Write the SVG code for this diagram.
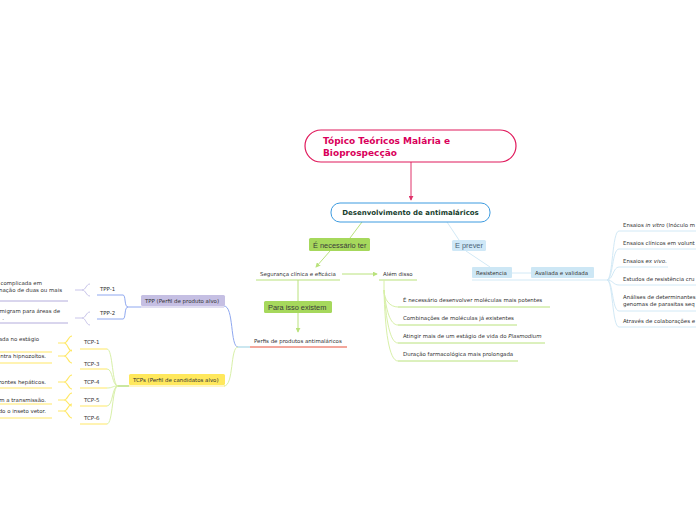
<svg xmlns="http://www.w3.org/2000/svg" width="696" height="520" viewBox="0 0 696 520">
<defs>
<style>
.t{font-family:"DejaVu Sans",Verdana,sans-serif;font-size:5.45px;fill:#333}
.lb{font-family:"Liberation Sans",Arial,sans-serif;font-size:7.4px;fill:#3a3a3a}
.g{fill:none;stroke:#b9e27c;stroke-width:1}
.gl{fill:none;stroke:#d8f0a8;stroke-width:1}
.b{fill:none;stroke:#d2e9f6;stroke-width:1}
.p{fill:none;stroke:#8fa8f0;stroke-width:1}
.pl{fill:none;stroke:#c9c5ea;stroke-width:1}
.y{fill:none;stroke:#ffe866;stroke-width:1.2}
</style>
<marker id="ag" viewBox="0 0 6 6" refX="5" refY="3" markerWidth="5" markerHeight="5" orient="auto"><path d="M0,0L6,3L0,6z" fill="#b9e27c"/></marker>
<marker id="ar" viewBox="0 0 6 6" refX="5" refY="3" markerWidth="5" markerHeight="5" orient="auto"><path d="M0,0L6,3L0,6z" fill="#e0336b"/></marker>
</defs>
<rect width="696" height="520" fill="#fff"/>
<g id="connectors">
<line x1="411" y1="162" x2="411" y2="200" stroke="#e0336b" stroke-width="1" marker-end="url(#ar)"/>
<line x1="362" y1="222" x2="350" y2="238" class="g"/>
<line x1="330" y1="251" x2="316" y2="267" class="g" marker-end="url(#ag)"/>
<line x1="447" y1="222" x2="459" y2="240" class="b"/>
<line x1="466" y1="251" x2="490" y2="267" class="b"/>
<line x1="342" y1="274" x2="377" y2="274" class="g" marker-end="url(#ag)"/>
<line x1="298" y1="280" x2="298" y2="301" class="g"/>
<line x1="298" y1="313" x2="298" y2="332" class="g" marker-end="url(#ag)"/>
<line x1="256" y1="280" x2="340" y2="280" class="g"/>
<line x1="379" y1="280" x2="417" y2="280" class="g"/>
<path d="M384,280V290C384,300 390,307 398,307M384,290C386,310 390,325 398,325M384,290C386,320 390,343 398,343M384,290C385,330 389,361 398,361" class="gl"/>
<path d="M398,307H550M398,325H517M398,343H545M398,361H518" class="g"/>
<line x1="472" y1="280" x2="607" y2="280" class="b"/>
<line x1="512" y1="273" x2="531" y2="273" class="b"/>
<path d="M607,280C613,280 612,231 619,231M607,280C613,280 612,249 619,249M607,280C613,280 613,267 619,267M607,280C613,280 613,285 619,285M607,280C613,280 612,311 619,311M607,280C613,280 612,327 619,327" class="b"/>
<path d="M619,231H696M619,249H696M619,267H668M619,285H696M619,311H696M619,327H696" class="b"/>
<line x1="238" y1="347" x2="250" y2="347" stroke="#a9d8e6" stroke-width="1.2"/>
<line x1="250" y1="347" x2="347" y2="347" stroke="#e8503a" stroke-width="1.2"/>
<path d="M224,306C234,306 230,347 238,347" class="p"/>
<path d="M238,347C230,347 234,386 224,386" class="gl"/>
<line x1="141" y1="307" x2="224" y2="307" stroke="#b3acdc" stroke-width="0.8"/>
<path d="M128,307H141M128,307C124,307 126,295 123,295M128,307C124,307 126,319 123,319" class="p"/>
<path d="M97,295H123M97,319H123" class="p"/>
<path d="M75,290H82C86,290 86,284 90,284M82,290C86,290 86,296 90,296M75,318H82C86,318 86,312 90,312M82,318C86,318 86,325 90,325" class="pl"/>
<path d="M0,301H68M0,323H68" stroke="#b3acdc" fill="none" stroke-width="1"/>
<line x1="129" y1="386" x2="225" y2="386" stroke="#ffe866" stroke-width="0.8"/>
<path d="M118,386H129" stroke="#a8d860" fill="none" stroke-width="1.2"/>
<path d="M118,386C112,386 113,349 107,349M118,386C112,386 113,369 107,369M118,386C112,386 113,388 107,388M118,386C112,386 113,406 107,406M118,386C112,386 113,424 107,424" class="gl"/>
<path d="M80,349H107M80,369H107M80,388H107M80,406H107M80,424H107" class="y"/>
<path d="M58,343H64C68,343 68,336 72,336M64,343C68,343 68,351 72,351M58,356H64C68,356 68,350 72,350M64,356C68,356 68,363 72,363M58,382H64C68,382 68,375 72,375M64,382C68,382 68,389 72,389M58,400H64C68,400 68,393 72,393M64,400C68,400 68,406 72,406M58,411H64C68,411 68,404 72,404M64,411C68,411 68,418 72,418" class="y" stroke-width="0.9"/>
<path d="M0,352H52M0,363H52M0,388H52M0,404H52M0,418H52" class="y"/>
</g>
<g id="root">
<rect x="305" y="130" width="211" height="32" rx="16" fill="#fff" stroke="#e01a5c" stroke-width="1.2"/>
<text x="323" y="144" font-family="DejaVu Sans,Verdana,sans-serif" font-size="9px" font-weight="bold" fill="#d9005b">Tópico Teóricos Malária e</text>
<text x="323" y="156" font-family="DejaVu Sans,Verdana,sans-serif" font-size="9px" font-weight="bold" fill="#d9005b">Bioprospecção</text>
</g>
<g id="desenvolvimento">
<rect x="331" y="203" width="159" height="19" rx="9" fill="#fff" stroke="#3d9be0" stroke-width="1"/>
<text x="410.5" y="215" text-anchor="middle" font-family="DejaVu Sans,Verdana,sans-serif" font-size="7px" font-weight="bold" fill="#17402e">Desenvolvimento de antimaláricos</text>
</g>
<g id="necessario-ter">
<rect x="309" y="238" width="61" height="13" rx="1.5" fill="#a6d85c"/>
<text x="313" y="247.5" class="lb">É necessário ter</text>
</g>
<g id="e-prever">
<rect x="452" y="240" width="34" height="11" rx="1.5" fill="#cfe8f7"/>
<text x="455" y="248" class="lb" style="fill:#4a6478">E prever</text>
</g>
<g id="seguranca"><text x="260" y="276" class="t">Segurança clínica e eficácia</text></g>
<g id="alem-disso"><text x="383" y="276" class="t">Além disso</text></g>
<g id="para-isso">
<rect x="264" y="301" width="68" height="12" rx="1.5" fill="#a6d85c"/>
<text x="268" y="309.5" class="lb">Para isso existem</text>
</g>
<g id="perfis"><text x="254" y="343" class="t">Perfis de produtos antimaláricos</text></g>
<g id="alem-items">
<text x="403" y="302" class="t">É necessário desenvolver moléculas mais potentes</text>
<text x="403" y="320" class="t">Combinações de moléculas já existentes</text>
<text x="403" y="338" class="t">Atingir mais de um estágio de vida do <tspan font-style="italic">Plasmodium</tspan></text>
<text x="403" y="356" class="t">Duração farmacológica mais prolongada</text>
</g>
<g id="resistencia">
<rect x="472" y="267" width="40" height="11" rx="1" fill="#cde7f5"/>
<text x="476" y="275" class="t">Resistencia</text>
</g>
<g id="avaliada">
<rect x="531" y="267" width="63" height="11" rx="1" fill="#cde7f5"/>
<text x="535" y="275" class="t">Avaliada e validada</text>
</g>
<g id="avaliada-items">
<text x="623" y="227" class="t">Ensaios <tspan font-style="italic">in vitro</tspan> (Inóculo m</text>
<text x="623" y="245" class="t">Ensaios clínicos em volunt</text>
<text x="623" y="263" class="t">Ensaios <tspan font-style="italic">ex vivo</tspan>.</text>
<text x="623" y="281" class="t">Estudos de resistência cru</text>
<text x="623" y="299" class="t">Análises de determinantes</text>
<text x="623" y="306" class="t">genomas de parasitas seq</text>
<text x="623" y="323" class="t">Através de colaborações e</text>
</g>
<g id="tpp">
<rect x="141" y="295" width="84" height="11" rx="1.5" fill="#c5bfe3"/>
<text x="145" y="303" class="t">TPP (Perfil de produto alvo)</text>
</g>
<g id="tpp-1"><text x="100" y="291" class="t">TPP-1</text></g>
<g id="tpp-2"><text x="100" y="315" class="t">TPP-2</text></g>
<g id="tpp-children">
<text x="42" y="285" text-anchor="end" class="t">o complicada em</text>
<text x="62" y="292" text-anchor="end" class="t">nação de duas ou mais</text>
<text x="60" y="313" text-anchor="end" class="t">migram para áreas de</text>
<text x="4" y="320" text-anchor="end" class="t">.</text>
</g>
<g id="tcps">
<rect x="129" y="374" width="96" height="11" rx="1.5" fill="#ffe85c"/>
<text x="133" y="382" class="t">TCPs (Perfil de candidatos alvo)</text>
</g>
<g id="tcp-1"><text x="84" y="344" class="t">TCP-1</text></g>
<g id="tcp-3"><text x="84" y="366" class="t">TCP-3</text></g>
<g id="tcp-4"><text x="84" y="384" class="t">TCP-4</text></g>
<g id="tcp-5"><text x="84" y="402" class="t">TCP-5</text></g>
<g id="tcp-6"><text x="84" y="420" class="t">TCP-6</text></g>
<g id="tcp-children">
<text x="39" y="341" text-anchor="end" class="t">ada no estágio</text>
<text x="46" y="358" text-anchor="end" class="t">ntra hipnozoítos.</text>
<text x="46" y="384" text-anchor="end" class="t">rontes hepáticos.</text>
<text x="46" y="402" text-anchor="end" class="t">m a transmissão.</text>
<text x="46" y="413" text-anchor="end" class="t">do o inseto vetor.</text>
</g>
</svg>
